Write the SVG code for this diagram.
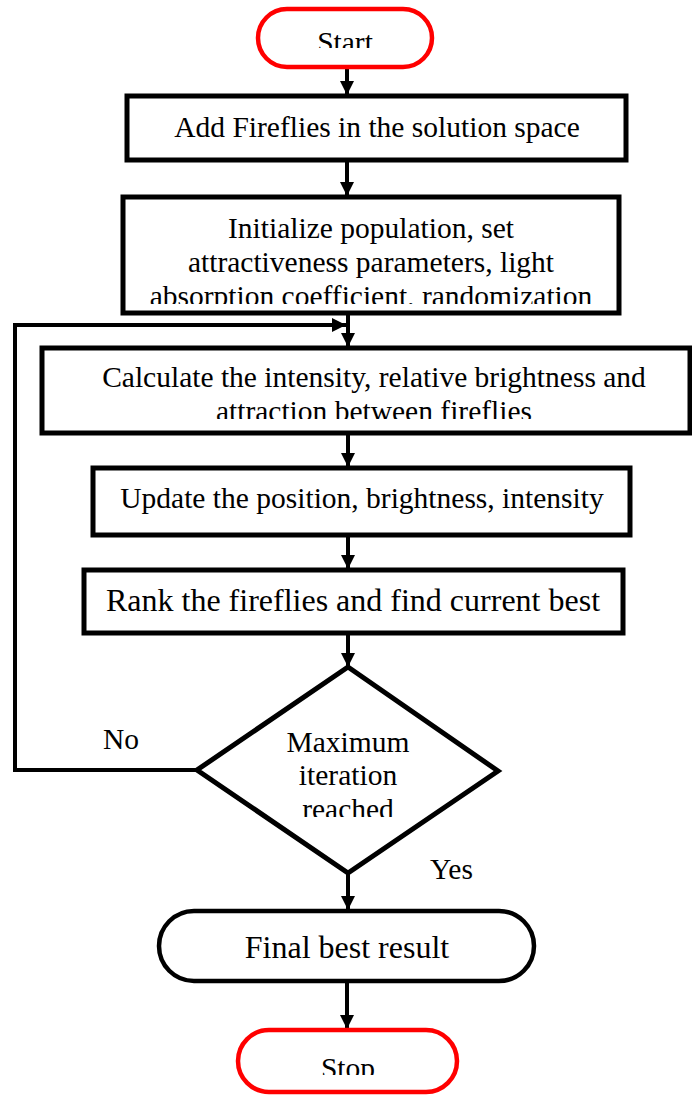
<svg xmlns="http://www.w3.org/2000/svg" width="692" height="1095" viewBox="0 0 692 1095" font-family="'Liberation Serif', 'Times New Roman', Times, serif">
<style>
.box{fill:#fff;stroke:#000;stroke-width:5}
.term{fill:#fff;stroke:#000;stroke-width:4.5}
.red{fill:#fff;stroke:#ff0000;stroke-width:4.5}
text{font-family:'Liberation Serif', 'Times New Roman', Times, serif;font-size:29.5px;fill:#000}
.t{text-anchor:middle}
.big{font-size:32px}
.ln{fill:none;stroke:#000;stroke-width:4}
</style>
<defs>
<marker id="ah" viewBox="0 0 10 10" refX="10" refY="5" markerWidth="3.6" markerHeight="3.6" markerUnits="strokeWidth" orient="auto">
<path d="M0,0 L10,5 L0,10 z" fill="#000"/>
</marker>
<clipPath id="cStart"><rect x="250" y="0" width="200" height="48"/></clipPath>
<clipPath id="cInit"><rect x="120" y="190" width="500" height="114"/></clipPath>
<clipPath id="cCalc"><rect x="40" y="340" width="652" height="79"/></clipPath>
<clipPath id="cDia"><rect x="190" y="660" width="320" height="157"/></clipPath>
<clipPath id="cStop"><rect x="230" y="1020" width="240" height="55"/></clipPath>
</defs>

<g id="connectors">
<line class="ln" x1="347" y1="68" x2="347" y2="95" marker-end="url(#ah)"/>
<line class="ln" x1="347" y1="160" x2="347" y2="196" marker-end="url(#ah)"/>
<line class="ln" x1="348" y1="313" x2="348" y2="347" marker-end="url(#ah)"/>
<polyline class="ln" points="197,770 15,770 15,325 346,325" marker-end="url(#ah)"/>
<line class="ln" x1="348" y1="433" x2="348" y2="467" marker-end="url(#ah)"/>
<line class="ln" x1="348" y1="535" x2="348" y2="569" marker-end="url(#ah)"/>
<line class="ln" x1="348" y1="633" x2="348" y2="667" marker-end="url(#ah)"/>
<line class="ln" x1="348" y1="873" x2="348" y2="910" marker-end="url(#ah)"/>
<line class="ln" x1="347" y1="982" x2="347" y2="1029" marker-end="url(#ah)"/>
<text x="103" y="749">No</text>
<text x="430" y="879">Yes</text>
</g>

<g id="start">
<rect class="red" x="258" y="9" width="174" height="58" rx="29"/>
<text class="t" x="345" y="52" clip-path="url(#cStart)">Start</text>
</g>

<g id="add">
<rect class="box" x="127" y="96" width="499" height="64"/>
<text class="t" x="377" y="137">Add Fireflies in the solution space</text>
</g>

<g id="init">
<rect class="box" x="123" y="197" width="496" height="116"/>
<text class="t" x="371" y="238">Initialize population, set</text>
<text class="t" x="371" y="272">attractiveness parameters, light</text>
<text class="t" x="371" y="306" clip-path="url(#cInit)">absorption coefficient, randomization</text>
</g>

<g id="calc">
<rect class="box" x="42" y="348" width="648" height="85"/>
<text class="t" x="374" y="387">Calculate the intensity, relative brightness and</text>
<text class="t" x="374" y="421" clip-path="url(#cCalc)">attraction between fireflies</text>
</g>

<g id="update">
<rect class="box" x="93" y="468" width="537" height="67"/>
<text class="t" x="362" y="508">Update the position, brightness, intensity</text>
</g>

<g id="rank">
<rect class="box" x="84" y="570" width="539" height="63"/>
<text class="t big" x="353" y="611">Rank the fireflies and find current best</text>
</g>

<g id="decision">
<polygon class="box" points="348,667 498,771 348,873 197,770"/>
<text class="t" x="348" y="752">Maximum</text>
<text class="t" x="348" y="785">iteration</text>
<text class="t" x="348" y="819" clip-path="url(#cDia)">reached</text>
</g>

<g id="final">
<rect class="term" x="159" y="911" width="375" height="70" rx="35"/>
<text class="t big" x="347" y="958">Final best result</text>
</g>

<g id="stop">
<rect class="red" x="238" y="1030" width="219" height="62" rx="31"/>
<text class="t" x="348" y="1078" clip-path="url(#cStop)">Stop</text>
</g>
</svg>
